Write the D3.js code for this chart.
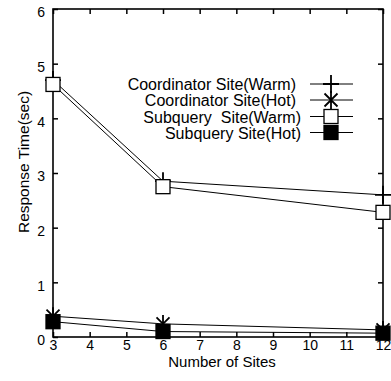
<!DOCTYPE html>
<html><head><meta charset="utf-8">
<script src="https://cdn.jsdelivr.net/npm/d3@7"></script>
<style>body{margin:0;background:#fff}svg{display:block}text{font-family:"Liberation Sans",Arial,sans-serif;fill:#000}</style>
</head><body><svg id="c" width="391" height="381"></svg>
<script>
const sites = [3, 6, 12];
const coordWarm = [4.70, 2.85, 2.60];
const coordHot = [0.38, 0.24, 0.13];
const subWarm = [4.62, 2.75, 2.28];
const subHot = [0.28, 0.10, 0.07];
const xTickValues = [3,4,5,6,7,8,9,10,11,12];
const yTickValues = [0,1,2,3,4,5,6];
const seriesNames = ["Coordinator Site(Warm)", "Coordinator Site(Hot)", "Subquery  Site(Warm)", "Subquery Site(Hot)"];
const seriesMarkers = ["plus", "star", "openSquare", "filledSquare"];

const svg = d3.select("#c");
const L = 53, R = 383, T = 9, B = 337;
const x = d3.scaleLinear().domain([3, 12]).range([L, R]);
const y = d3.scaleLinear().domain([0, 6]).range([B, T]);

const fs = "14px";
const axBottom = svg.append("g").attr("transform", `translate(0,${B})`)
  .call(d3.axisBottom(x).tickValues(xTickValues).tickSize(-5).tickPadding(3).tickFormat(d3.format("d")));
const axTop = svg.append("g").attr("transform", `translate(0,${T})`)
  .call(d3.axisTop(x).tickValues(xTickValues).tickSize(-5).tickFormat(""));
const axLeft = svg.append("g").attr("transform", `translate(${L},0)`)
  .call(d3.axisLeft(y).tickValues(yTickValues).tickSize(-5).tickPadding(8).tickFormat(d3.format("d")));
const axRight = svg.append("g").attr("transform", `translate(${R},0)`)
  .call(d3.axisRight(y).tickValues(yTickValues).tickSize(-5).tickFormat(""));
[axBottom, axTop, axLeft, axRight].forEach(g => {
  g.select(".domain").remove();
  g.selectAll(".tick line").attr("stroke", "#000").attr("stroke-width", 1.5);
  g.selectAll("text").style("font-size", fs).attr("font-family", "Liberation Sans, Arial, sans-serif").attr("fill", "#000");
});
axLeft.selectAll("text").attr("dy", "0.55em");
svg.append("rect").attr("x", L).attr("y", T).attr("width", R - L).attr("height", B - T)
  .attr("fill", "none").attr("stroke", "#000").attr("stroke-width", 1.6);

svg.append("text").attr("x", (L + R) / 2 + 4).attr("y", 367).attr("text-anchor", "middle")
  .style("font-size", "15px").text("Number of Sites");
svg.append("text").attr("transform", `translate(29,162) rotate(-90)`)
  .attr("text-anchor", "middle").style("font-size", "15.5px").text("Response Time(sec)");

const allSeries = [coordWarm, coordHot, subWarm, subHot];
const line = d3.line().x((d, i) => x(sites[i])).y(d => y(d));
allSeries.forEach(s => {
  svg.append("path").datum(s).attr("d", line).attr("fill", "none").attr("stroke", "#000").attr("stroke-width", 1);
});

function marker(g, type, cx, cy) {
  const s = 8;
  if (type === "plus") {
    g.append("path").attr("d", `M${cx - s},${cy}H${cx + s}M${cx},${cy - 9}V${cy + 9}`)
      .attr("stroke", "#000").attr("stroke-width", 1.8).attr("fill", "none");
  } else if (type === "star") {
    const d = 6.5;
    g.append("path").attr("d", `M${cx - d},${cy - d}L${cx + d},${cy + d}M${cx - d},${cy + d}L${cx + d},${cy - d}M${cx},${cy - 9}V${cy + 9}`)
      .attr("stroke", "#000").attr("stroke-width", 1.8).attr("fill", "none");
  } else if (type === "openSquare") {
    g.append("rect").attr("x", cx - 7).attr("y", cy - 7).attr("width", 14).attr("height", 14)
      .attr("fill", "#fff").attr("stroke", "#000").attr("stroke-width", 1.3);
  } else {
    g.append("rect").attr("x", cx - 7).attr("y", cy - 7).attr("width", 14).attr("height", 14)
      .attr("fill", "#000").attr("stroke", "#000").attr("stroke-width", 1.3);
  }
}
const mg = svg.append("g");
allSeries.forEach((s, k) => {
  s.forEach((v, i) => marker(mg, seriesMarkers[k], x(sites[i]), y(v)));
});

const legY = [84, 100, 116.5, 132.5];
const legTextX = [296, 296, 301, 301];
seriesNames.forEach((n, i) => {
  svg.append("text").attr("x", legTextX[i]).attr("y", legY[i] + 6).attr("text-anchor", "end")
    .style("font-size", "16px").style("white-space", "pre").text(n);
  svg.append("line").attr("x1", 310).attr("x2", 353).attr("y1", legY[i]).attr("y2", legY[i])
    .attr("stroke", "#000").attr("stroke-width", 1);
});
seriesNames.forEach((n, i) => marker(svg, seriesMarkers[i], 331, legY[i]));
</script></body></html>
